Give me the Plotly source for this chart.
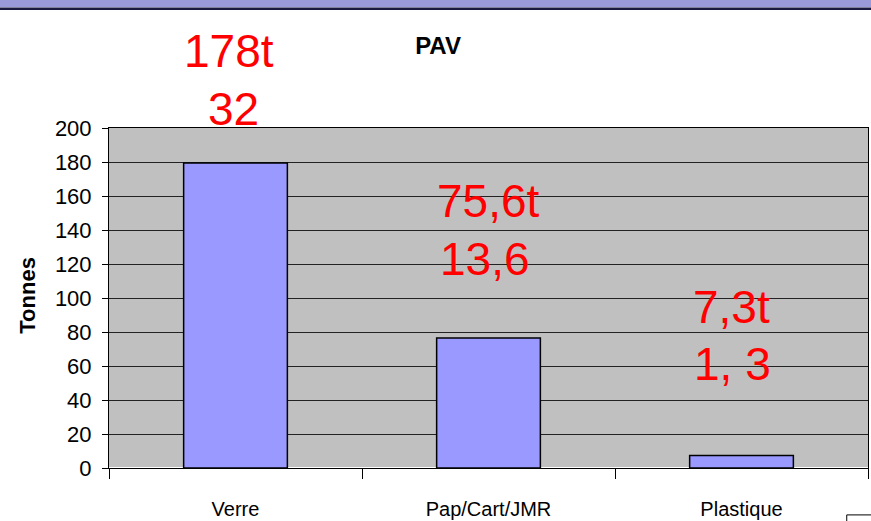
import plotly.graph_objects as go

categories = ["Verre", "Pap/Cart/JMR", "Plastique"]
tonnes = [179.4, 76.5, 7.3]
label_line1 = ["178t", "75,6t", "7,3t"]
label_line2 = ["32", "13,6", "1, 3"]
y_ticks = list(range(0, 201, 20))
y_max = 200

# label placement (y of text centre in axis units, pixel x shift)
line1_y = [245, 157, 94.5]
line2_y = [211, 123, 61]
line1_dx = [-7, 0, -10]
line2_dx = [-2, -4, -9]

FONT = "Liberation Sans, Arial, sans-serif"

fig = go.Figure()
fig.add_trace(go.Bar(
    x=categories, y=tonnes,
    marker=dict(color="#9999FF", line=dict(color="#000000", width=1.5)),
    width=0.41,
))

for i, c in enumerate(categories):
    fig.add_annotation(x=c, y=line1_y[i] / y_max, xref="x", yref="paper", text=label_line1[i],
                       showarrow=False, xshift=line1_dx[i], yanchor="middle",
                       font=dict(family=FONT, size=46, color="#FF0000"))
    fig.add_annotation(x=c, y=line2_y[i] / y_max, xref="x", yref="paper", text=label_line2[i],
                       showarrow=False, xshift=line2_dx[i], yanchor="middle",
                       font=dict(family=FONT, size=46, color="#FF0000"))

# y-axis title
fig.add_annotation(x=-0.107, y=0.509, xref="paper", yref="paper", text="<b>Tonnes</b>",
                   textangle=-90, showarrow=False, xanchor="center", yanchor="middle",
                   font=dict(family=FONT, size=22, color="#000000"))

# top banner
fig.add_shape(type="rect", xref="paper", yref="paper", x0=-0.2, x1=1.1,
              y0=1.355, y1=1.45, fillcolor="#9A9ADB", line=dict(width=0), layer="above")
fig.add_shape(type="line", xref="paper", yref="paper", x0=-0.2, x1=1.1,
              y0=1.351, y1=1.351, line=dict(color="#1a1a40", width=2.5))
# partial legend box bottom-right
fig.add_shape(type="rect", xref="paper", yref="paper", x0=0.972, x1=1.02,
              y0=-0.138, y1=-0.2, line=dict(color="#000000", width=1), fillcolor="white")

fig.update_layout(
    width=871, height=521,
    margin=dict(l=109, r=3, t=128, b=53, autoexpand=False),
    paper_bgcolor="white",
    plot_bgcolor="#C0C0C0",
    showlegend=False,
    title=dict(text="<b>PAV</b>", x=0.4335, xref="paper", xanchor="center",
               y=0.913, yref="container", yanchor="middle",
               font=dict(family=FONT, size=24, color="#000000")),
    bargap=0.59,
    xaxis=dict(
        automargin=False,
        showgrid=False, ticks="outside", tickson="boundaries", ticklen=10,
        tickcolor="#000000", showline=True, linecolor="#000000", linewidth=1,
        mirror=True, ticklabelstandoff=23,
        tickfont=dict(family=FONT, size=20, color="#000000"),
    ),
    yaxis=dict(
        automargin=False,
        range=[0, y_max], tickvals=y_ticks, ticks="outside", ticklen=6,
        tickcolor="#000000", showline=True, linecolor="#000000", linewidth=1,
        mirror=True, ticklabelstandoff=6,
        showgrid=True, gridcolor="#222222", gridwidth=1,
        tickfont=dict(family=FONT, size=22, color="#000000"),
    ),
)

fig.write_html("out.html", config={"displayModeBar": False},
               post_script="document.body.style.margin='0';")
